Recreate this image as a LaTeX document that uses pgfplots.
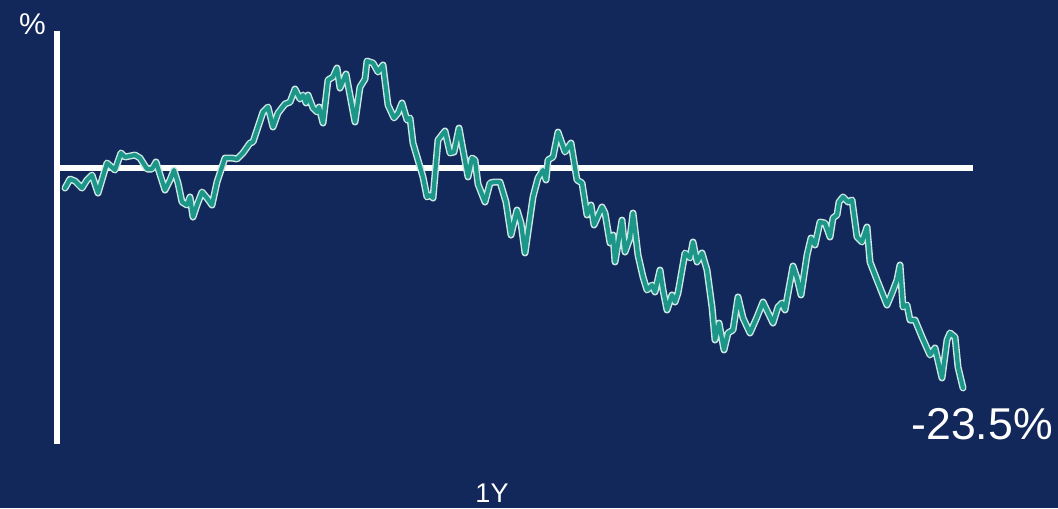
\documentclass[border=0pt]{standalone}
\usepackage{fontspec}
\setmainfont{Liberation Sans}
\usepackage{pgfplots}
\usepackage{pgfplotstable}
\pgfplotsset{compat=1.18}
\definecolor{navybg}{RGB}{19,40,90}
\definecolor{tealline}{RGB}{28,150,136}
\definecolor{edgeline}{RGB}{205,232,228}
\pgfplotstableread{
x y
65 -2.19
70 -1.23
75 -1.44
82 -2.19
87 -1.33
92 -0.80
98 -2.72
107 0.48
115 -0.27
121 1.55
125 1.12
135 1.33
140 1.01
147 -0.16
152 -0.16
156 0.59
165 -2.40
170 -1.33
174 -0.27
178 -1.65
182 -3.68
187 -4.00
190 -3.14
193 -5.28
197 -4.00
202 -2.61
207 -3.25
212 -4.00
217 -1.55
225 1.01
232 1.01
237 0.91
243 1.55
250 2.61
253 2.72
263 5.92
268 6.45
273 4.32
278 5.81
285 6.77
290 6.98
295 8.37
300 7.30
303 7.73
306 6.88
308 7.73
313 6.34
317 5.92
319 6.45
323 4.74
328 9.33
333 9.65
337 10.61
340 8.47
346 9.97
355 4.85
360 8.58
365 9.43
367 11.35
373 11.14
378 10.18
383 10.93
388 6.66
394 5.28
398 5.81
402 6.88
407 5.06
410 5.28
413 2.61
423 -1.01
427 -3.14
430 -2.93
433 -3.25
438 2.93
445 3.89
450 1.55
454 1.65
459 4.21
463 1.87
468 -1.01
472 1.01
475 0.80
478 -1.76
485 -3.68
490 -1.65
494 -1.55
500 -1.55
506 -3.68
511 -7.20
517 -4.53
521 -5.92
525 -9.11
533 -3.14
538 -1.12
543 -0.27
546 -1.33
548 0.80
553 1.12
558 3.78
565 1.65
571 2.61
577 -1.33
582 -1.65
587 -5.06
591 -4.00
594 -6.13
602 -4.21
605 -4.85
610 -8.05
613 -7.20
615 -10.07
622 -5.60
625 -9.01
630 -7.52
633 -4.85
638 -9.33
643 -11.67
647 -13.06
652 -12.53
655 -13.27
660 -10.93
663 -13.06
667 -15.19
672 -13.59
675 -14.34
678 -13.38
685 -9.11
690 -9.65
693 -7.94
697 -10.07
702 -9.11
707 -10.93
712 -14.87
715 -18.39
719 -16.58
724 -19.45
728 -17.64
733 -17.32
738 -13.80
743 -16.04
750 -17.64
757 -15.94
763 -14.34
773 -16.58
778 -14.87
782 -14.44
785 -15.19
793 -10.50
797 -11.78
801 -13.59
807 -9.33
811 -7.52
815 -8.26
820 -5.81
825 -5.92
830 -7.41
833 -5.38
837 -5.06
839 -3.68
843 -3.14
848 -3.68
852 -3.46
857 -7.41
862 -7.94
867 -6.34
870 -10.07
877 -11.99
887 -14.66
892 -13.38
897 -11.99
900 -10.39
903 -14.87
907 -14.66
910 -16.26
915 -16.26
922 -18.07
930 -19.99
935 -19.24
942 -22.44
947 -18.39
950 -17.64
955 -18.07
958 -21.27
963 -23.50
}\series
\begin{document}
\begin{tikzpicture}
\begin{axis}[
  scale only axis,
  width=529pt, height=254pt,
  xmin=0, xmax=1058,
  ymin=-36.30, ymax=17.86,
  axis lines=none,
  ticks=none,
  clip=false,
  axis background/.style={fill=navybg},
]
% vertical axis line
\addplot[white, line width=3pt, line cap=butt] coordinates {(57,14.6) (57,-29.47)};
% zero line
\addplot[white, line width=3pt, line cap=butt] coordinates {(59,0) (973,0)};
% series: light outline, then teal core
\addplot[edgeline, line width=3.5pt, line join=round, line cap=round] table[x=x, y=y] {\series};
\addplot[tealline, line width=2.1pt, line join=round, line cap=round] table[x=x, y=y] {\series};
\node[white, inner sep=0pt, font=\fontsize{15pt}{17pt}\selectfont] at (axis cs:32.5,15.33) {\%};
\node[white, inner sep=0pt, font=\fontsize{22.3pt}{24pt}\selectfont] at (axis cs:982,-27.34) {-23.5\%};
\node[white, inner sep=0pt, font=\fontsize{13.5pt}{15pt}\selectfont] at (axis cs:492,-34.75) {1Y};
\end{axis}
\end{tikzpicture}
\end{document}
